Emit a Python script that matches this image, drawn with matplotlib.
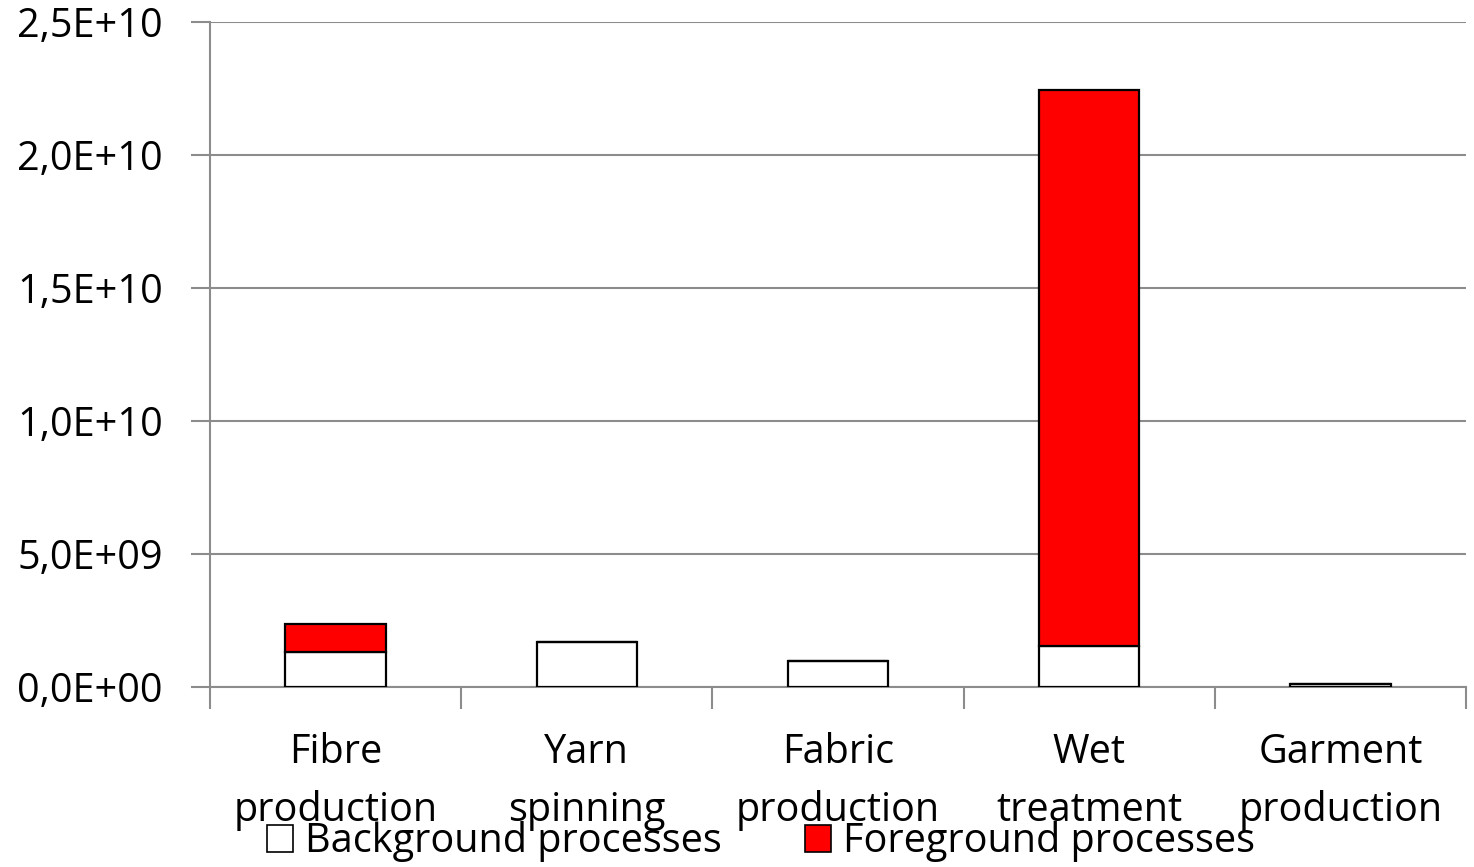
import matplotlib
matplotlib.use("Agg")
import matplotlib.pyplot as plt
from matplotlib.patches import Patch
from matplotlib.ticker import FuncFormatter, MultipleLocator

categories = ["Fibre\nproduction", "Yarn\nspinning", "Fabric\nproduction",
              "Wet\ntreatment", "Garment\nproduction"]
background = [1.32e9, 1.70e9, 0.98e9, 1.55e9, 0.11e9]
foreground = [1.06e9, 0.0, 0.0, 2.09e10, 0.0]

plt.rcParams['font.family'] = ['Open Sans', 'DejaVu Sans']
FS = 28.5
GRID = '#8c8c8c'

fig = plt.figure(figsize=(14.74, 8.67), dpi=100)
ax = fig.add_axes([210 / 1474, 180 / 867, 1256 / 1474, 665 / 867])

x = list(range(len(categories)))
ax.bar(x, background, width=0.4, color='white', edgecolor='black', linewidth=1.6, zorder=3)
ax.bar(x, foreground, width=0.4, bottom=background, color='#ff0000',
       edgecolor='black', linewidth=1.6, zorder=3)

ax.set_xlim(-0.5, len(categories) - 0.5)
ax.set_ylim(0, 2.5e10)
ax.yaxis.set_major_locator(MultipleLocator(5e9))


def sci_comma(v, pos):
    s = f"{v:.1E}"
    mant, exp = s.split("E")
    e = int(exp)
    sign = "+" if e >= 0 else "-"
    return f"{mant.replace('.', ',')}E{sign}{abs(e):02d}"


ax.yaxis.set_major_formatter(FuncFormatter(sci_comma))
ax.grid(axis='y', color=GRID, linewidth=1.5, zorder=0)

ax.set_xticks(x)
ax.set_xticklabels(categories, fontsize=FS, linespacing=1.55)
ax.tick_params(axis='x', which='major', length=0, pad=33)
ax.set_xticks([i - 0.5 for i in range(len(categories) + 1)], minor=True)
ax.tick_params(axis='x', which='minor', length=16, width=1.5, color=GRID)
ax.tick_params(axis='y', labelsize=FS, length=14, width=1.5, color=GRID, pad=20)

for side in ['top', 'right']:
    ax.spines[side].set_visible(False)
for side in ['left', 'bottom']:
    ax.spines[side].set_color(GRID)
    ax.spines[side].set_linewidth(1.5)

handles = [Patch(facecolor='white', edgecolor='black', linewidth=1.2, label='Background processes'),
           Patch(facecolor='#ff0000', edgecolor='black', linewidth=1.2, label='Foreground processes')]
fig.legend(handles=handles, loc='center', bbox_to_anchor=(761 / 1474, 1 - 842 / 867),
           ncol=2, frameon=False, fontsize=FS, handlelength=0.65, handleheight=0.65,
           handletextpad=0.3, columnspacing=2.1, borderpad=0)

fig.savefig("out.png", dpi=100)
